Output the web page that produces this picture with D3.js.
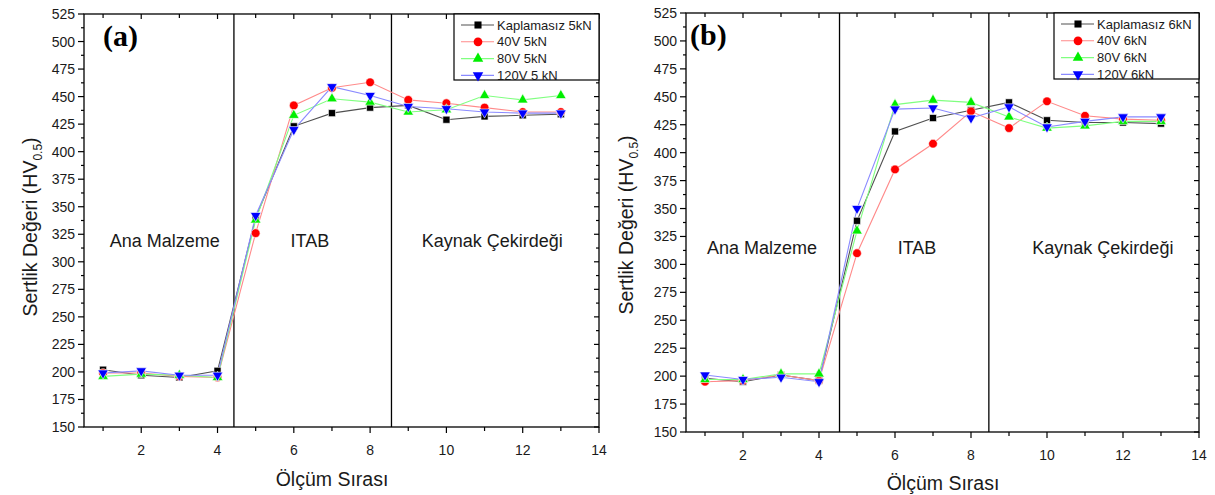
<!DOCTYPE html>
<html lang="tr">
<head>
<meta charset="UTF-8">
<title>Sertlik Değeri</title>
<script src="https://d3js.org/d3.v7.min.js"></script>
<style>
    body { margin: 0; background: #fff; }
    text { font-family: Arial, "Liberation Sans", sans-serif; fill: #1a1a1a; }
    .frame { fill: none; stroke: #000; stroke-width: 1.3; }
    .tick { stroke: #000; stroke-width: 1.2; }
    .divider { stroke: #000; stroke-width: 1.3; }
    .tick-text { font-size: 14px; }
    .axis-title { font-size: 19.5px; }
    .region { font-size: 18px; }
    .legend-text { font-size: 13px; }
    .panel-tag { font-family: "Liberation Serif", "Times New Roman", serif; font-weight: bold; font-size: 30px; fill: #000; }
</style>
</head>
<body>

<svg width="1215" height="495"></svg>

<script>

    var olcum = [1, 2, 3, 4, 5, 6, 7, 8, 9, 10, 11, 12, 13];
    var xTicks = [2, 4, 6, 8, 10, 12, 14];
    var yTicks = [150, 175, 200, 225, 250, 275, 300, 325, 350, 375, 400, 425, 450, 475, 500, 525];

    var legendA = ["Kaplamasız 5kN", "40V 5kN", "80V 5kN", "120V 5 kN"];
    var legendB = ["Kaplamasız 6kN", "40V 6kN", "80V 6kN", "120V 6kN"];

    // panel (a) - 5 kN
    var kaplamasiz5 = [202, 197, 195, 201, 340, 423, 435, 440, 442, 429, 432, 433, 434];
    var v40_5 = [199, 199, 196, 195, 326, 442, 458, 463, 447, 444, 440, 436, 436];
    var v80_5 = [196, 198, 197, 195, 338, 433, 448, 445, 436, 438, 451, 447, 451];
    var v120_5 = [199, 201, 197, 197, 342, 420, 459, 451, 441, 439, 436, 435, 435];

    // panel (b) - 6 kN
    var kaplamasiz6 = [198, 195, 201, 196, 339, 419, 431, 438, 445, 429, 427, 427, 426];
    var v40_6 = [195, 196, 201, 196, 310, 385, 408, 437, 422, 446, 433, 430, 429];
    var v80_6 = [197, 197, 202, 202, 330, 443, 447, 445, 432, 422, 424, 428, 428];
    var v120_6 = [201, 197, 199, 195, 350, 439, 440, 431, 441, 423, 428, 432, 432];

    var bolgeler = ["Ana Malzeme", "ITAB", "Kaynak Çekirdeği"];
    var sinirA = [4.43, 8.56];
    var sinirB = [4.54, 8.47];

    var styles = [
        {shape: d3.symbolSquare, size: 50, fill: "#000", line: "#505050", rot: 0},
        {shape: d3.symbolCircle, size: 60, fill: "#ff0000", line: "#ff8a8a", rot: 0},
        {shape: d3.symbolTriangle, size: 48, fill: "#00ee00", line: "#80ff80", rot: 0},
        {shape: d3.symbolTriangle, size: 48, fill: "#0000ff", line: "#8a8aff", rot: 180}
    ];

    var svg = d3.select("svg");

    var panels = [
        {left: 84, right: 599, top: 14, bottom: 427, tag: "(a)", series: [kaplamasiz5, v40_5, v80_5, v120_5],
            legend: legendA, dividers: sinirA, regionX: [2.62, 6.42, 11.2], regionY: 319,
            ytitleX: 37, ytitleY: 227, xtitleX: 332, xtitleY: 486},
        {left: 686, right: 1199, top: 13, bottom: 432, tag: "(b)", series: [kaplamasiz6, v40_6, v80_6, v120_6],
            legend: legendB, dividers: sinirB, regionX: [2.5, 6.58, 11.47], regionY: 315,
            ytitleX: 633, ytitleY: 225, xtitleX: 943, xtitleY: 490}
    ];

    panels.forEach(function(p) {
        var x = d3.scaleLinear().domain([0.5, 14]).range([p.left, p.right]);
        var y = d3.scaleLinear().domain([150, 525]).range([p.bottom, p.top]);
        var g = svg.append("g");

        // minor/major ticks
        var xMinor = d3.range(1, 14, 2);
        var yMinor = d3.range(162.5, 525, 25);

        xTicks.forEach(function(v) {
            g.append("line").attr("class", "tick")
                .attr("x1", x(v)).attr("x2", x(v)).attr("y1", p.bottom).attr("y2", p.bottom + 6);
            g.append("line").attr("class", "tick")
                .attr("x1", x(v)).attr("x2", x(v)).attr("y1", p.top).attr("y2", p.top + 5);
            g.append("text").attr("class", "tick-text")
                .attr("x", x(v)).attr("y", p.bottom + 28)
                .attr("text-anchor", "middle").text(v);
        });
        xMinor.forEach(function(v) {
            g.append("line").attr("class", "tick")
                .attr("x1", x(v)).attr("x2", x(v)).attr("y1", p.bottom).attr("y2", p.bottom + 4);
            g.append("line").attr("class", "tick")
                .attr("x1", x(v)).attr("x2", x(v)).attr("y1", p.top).attr("y2", p.top + 4);
        });
        yTicks.forEach(function(v) {
            g.append("line").attr("class", "tick")
                .attr("x1", p.left - 6).attr("x2", p.left).attr("y1", y(v)).attr("y2", y(v));
            g.append("line").attr("class", "tick")
                .attr("x1", p.right - 5).attr("x2", p.right).attr("y1", y(v)).attr("y2", y(v));
            g.append("text").attr("class", "tick-text")
                .attr("x", p.left - 9).attr("y", y(v) + 5)
                .attr("text-anchor", "end").text(v);
        });
        yMinor.forEach(function(v) {
            g.append("line").attr("class", "tick")
                .attr("x1", p.left - 3).attr("x2", p.left).attr("y1", y(v)).attr("y2", y(v));
            g.append("line").attr("class", "tick")
                .attr("x1", p.right - 3).attr("x2", p.right).attr("y1", y(v)).attr("y2", y(v));
        });

        // region dividers
        p.dividers.forEach(function(d) {
            g.append("line").attr("class", "divider")
                .attr("x1", x(d)).attr("x2", x(d)).attr("y1", p.top).attr("y2", p.bottom);
        });

        // region labels
        bolgeler.forEach(function(b, i) {
            g.append("text").attr("class", "region")
                .attr("x", x(p.regionX[i])).attr("y", y(p.regionY) + 6)
                .attr("text-anchor", "middle").text(b);
        });

        // series
        var line = d3.line().x(function(d, i) { return x(olcum[i]); }).y(function(d) { return y(d); });
        p.series.forEach(function(s, k) {
            var st = styles[k];
            g.append("path").datum(s)
                .attr("d", line).attr("fill", "none")
                .attr("stroke", st.line).attr("stroke-width", 1.1);
        });
        p.series.forEach(function(s, k) {
            var st = styles[k];
            g.selectAll(".m" + k).data(s).enter().append("path")
                .attr("class", "m" + k)
                .attr("d", d3.symbol().type(st.shape).size(st.size))
                .attr("transform", function(d, i) {
                    return "translate(" + x(olcum[i]) + "," + y(d) + ") rotate(" + st.rot + ")";
                })
                .attr("fill", st.fill)
                .attr("stroke", "#fff").attr("stroke-width", 0.6);
        });

        // frame
        g.append("rect").attr("class", "frame")
            .attr("x", p.left).attr("y", p.top)
            .attr("width", p.right - p.left).attr("height", p.bottom - p.top);

        // legend
        var lx = p.right - 145, ly = p.top;
        g.append("rect").attr("x", lx).attr("y", ly).attr("width", 145).attr("height", 66)
            .attr("fill", "#fff").attr("stroke", "#000").attr("stroke-width", 1.2);
        p.legend.forEach(function(name, k) {
            var st = styles[k], cy = ly + 11 + k * 16.8;
            g.append("line").attr("x1", lx + 7).attr("x2", lx + 40).attr("y1", cy).attr("y2", cy)
                .attr("stroke", st.line).attr("stroke-width", 1.1);
            g.append("path")
                .attr("d", d3.symbol().type(st.shape).size(st.size))
                .attr("transform", "translate(" + (lx + 24) + "," + cy + ") rotate(" + st.rot + ")")
                .attr("fill", st.fill);
            g.append("text").attr("class", "legend-text")
                .attr("x", lx + 43).attr("y", cy + 4.5).text(name);
        });

        // panel tag
        g.append("text").attr("class", "panel-tag")
            .attr("x", p.left + (p.tag === "(a)" ? 19 : 4)).attr("y", p.top + 32).text(p.tag);

        // axis titles
        var yt = g.append("text").attr("class", "axis-title")
            .attr("transform", "translate(" + p.ytitleX + "," + p.ytitleY + ") rotate(-90)")
            .attr("text-anchor", "middle");
        yt.append("tspan").text("Sertlik Değeri (HV");
        yt.append("tspan").attr("font-size", "12px").attr("dy", 5).text("0.5");
        yt.append("tspan").attr("dy", -5).text(")");

        g.append("text").attr("class", "axis-title")
            .attr("x", p.xtitleX).attr("y", p.xtitleY)
            .attr("text-anchor", "middle").text("Ölçüm Sırası");
    });

</script>

</body>
</html>
